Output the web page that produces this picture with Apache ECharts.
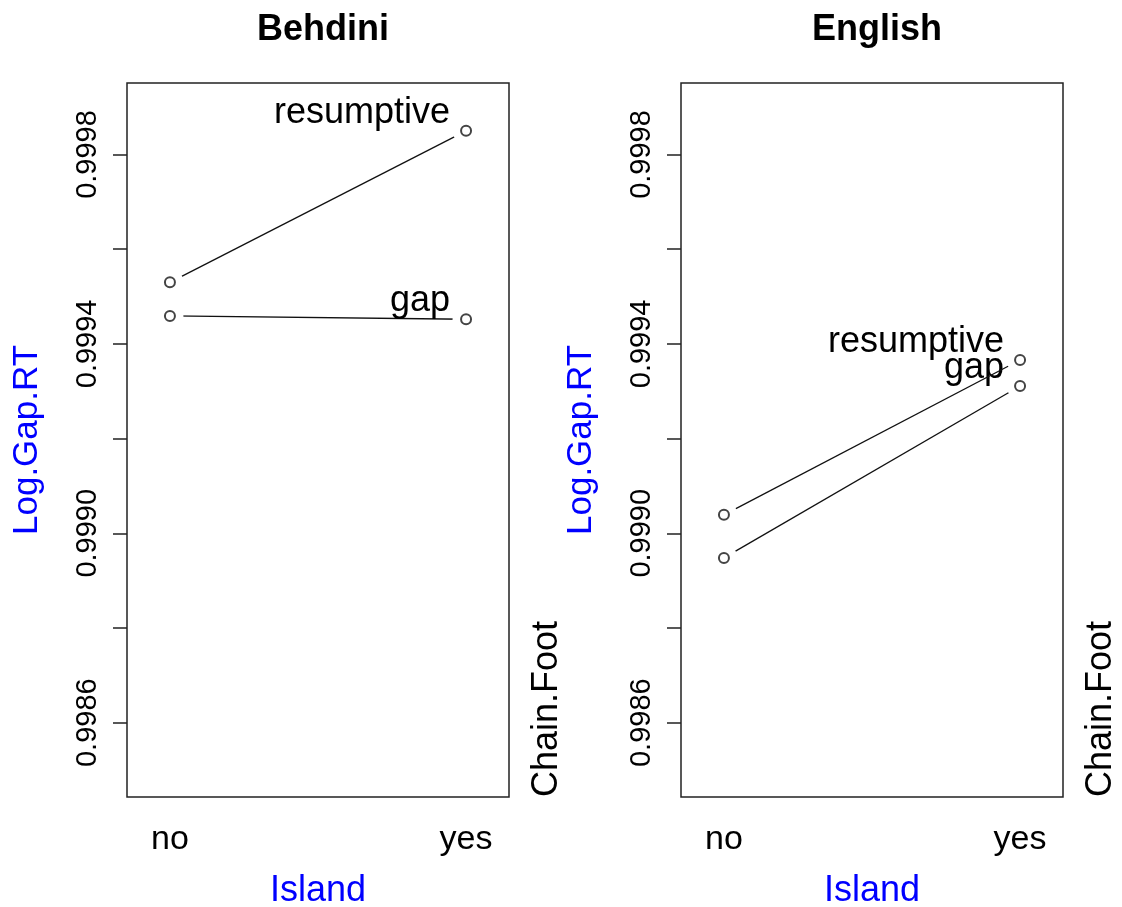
<!DOCTYPE html>
<html>
<head>
<meta charset="utf-8">
<script src="https://cdn.jsdelivr.net/npm/echarts@6/dist/echarts.min.js"></script>
<style>
html,body{margin:0;padding:0;background:#fff;}
#chart{width:1122px;height:907px;}
</style>
</head>
<body>
<div id="chart"></div>
<script>
// ---- data ----
const panels = ['Behdini', 'English'];
const categories = ['no', 'yes'];
const traceNames = ['gap', 'resumptive'];
const behdiniGap = [0.999459, 0.999452];
const behdiniResumptive = [0.999530, 0.999850];
const englishGap = [0.998948, 0.999311];
const englishResumptive = [0.999039, 0.999366];
const yTickValues = [0.9986, 0.9988, 0.9990, 0.9992, 0.9994, 0.9996, 0.9998];
const yLabelValues = [0.9986, 0.9990, 0.9994, 0.9998];
const yMin = 0.998443, yMax = 0.999951;
const xMin = 0.855, xMax = 2.145;
const xLabel = 'Island', yLabel = 'Log.Gap.RT', traceLabel = 'Chain.Foot';

const panelData = [
  [behdiniGap, behdiniResumptive],
  [englishGap, englishResumptive]
];

const FONT = '"Liberation Sans", Arial, sans-serif';
const gridLefts = [127, 681];
const gridW = 382, gridTop = 83, gridH = 714;

const chart = echarts.init(document.getElementById('chart'), null, {renderer: 'canvas'});

const grids = [], xAxes = [], yAxes = [], series = [], titles = [], graphics = [];
panels.forEach((p, pi) => {
  grids.push({left: gridLefts[pi], top: gridTop, width: gridW, height: gridH,
    show: true, borderColor: '#222', borderWidth: 1.5, backgroundColor: 'transparent',
    containLabel: false, outerBoundsMode: 'none'});
  titles.push({text: p, left: gridLefts[pi] + gridW / 2, textAlign: 'center', top: 7,
    textStyle: {fontFamily: FONT, fontWeight: 'bold', fontSize: 36, color: '#000'}});
  xAxes.push({type: 'value', gridIndex: pi, min: xMin, max: xMax,
    axisLine: {show: false}, axisTick: {show: false}, splitLine: {show: false},
    axisLabel: {customValues: [1, 2], formatter: v => categories[Math.round(v) - 1],
      fontFamily: FONT, fontSize: 34, color: '#000', margin: 26},
    name: xLabel, nameLocation: 'middle', nameGap: 76,
    nameTextStyle: {fontFamily: FONT, fontSize: 36, color: '#0000ff'}});
  yAxes.push({type: 'value', gridIndex: pi, min: yMin, max: yMax,
    axisLine: {show: false}, splitLine: {show: false},
    axisTick: {show: true, customValues: yTickValues, length: 14, lineStyle: {color: '#222', width: 1.5}},
    axisLabel: {customValues: yLabelValues, rotate: 90, formatter: v => v.toFixed(4),
      fontFamily: FONT, fontSize: 29, color: '#000', margin: 25},
    name: yLabel, nameLocation: 'middle', nameRotate: 90, nameGap: 82,
    nameTextStyle: {fontFamily: FONT, fontSize: 35, color: '#0000ff'}});
  graphics.push({type: 'text', x: gridLefts[pi] + gridW + 38, y: gridTop + gridH, rotation: Math.PI / 2,
    style: {text: traceLabel, font: '36px ' + FONT, fill: '#000', align: 'left', verticalAlign: 'middle'}});

  panelData[pi].forEach((vals, ti) => {
    const pts = vals.map((v, i) => [i + 1, v]);
    // line with white masks around the points (R type = "b" gaps)
    series.push({type: 'line', xAxisIndex: pi, yAxisIndex: pi, data: pts,
      symbol: 'circle', symbolSize: 27, showSymbol: true,
      itemStyle: {color: '#fff', borderWidth: 0, opacity: 1},
      lineStyle: {color: '#111', width: 1.3}, z: 2 + ti * 2, silent: true, animation: false});
    series.push({type: 'scatter', xAxisIndex: pi, yAxisIndex: pi,
      data: pts.map((pt, i) => i === pts.length - 1 ? {value: pt, label: {show: true}} : {value: pt}),
      symbol: 'emptyCircle', symbolSize: 10,
      itemStyle: {color: '#444', borderColor: '#444', borderWidth: 1.3, opacity: 1},
      label: {show: false, formatter: traceNames[ti], position: 'left', distance: 10,
        align: 'right', verticalAlign: 'bottom', offset: [0, 0],
        fontFamily: FONT, fontSize: 36, color: '#000', opacity: 1},
      z: 3 + ti * 2, silent: true, animation: false});
  });
});

chart.setOption({
  animation: false,
  backgroundColor: '#fff',
  title: titles,
  grid: grids,
  xAxis: xAxes,
  yAxis: yAxes,
  series: series,
  graphic: graphics
});
</script>
</body>
</html>
